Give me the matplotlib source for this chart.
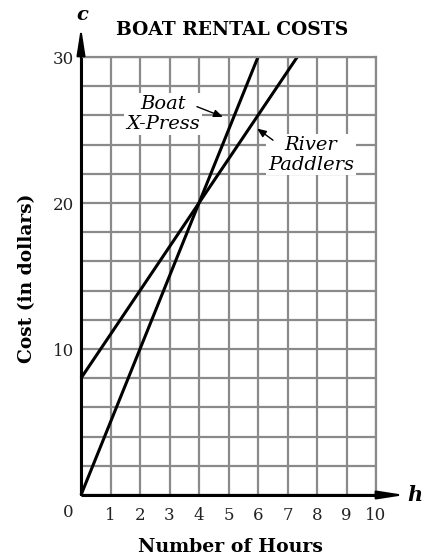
import matplotlib
matplotlib.use("Agg")
import matplotlib.pyplot as plt

boat_hours = [0, 6]
boat_cost = [0, 30]
river_hours = [0, 7.33]
river_cost = [8, 30]

x_ticks = [1, 2, 3, 4, 5, 6, 7, 8, 9, 10]
y_ticks = [10, 20, 30]
y_grid = list(range(0, 31, 2))

plt.rcParams['font.family'] = ['DejaVu Serif']

fig = plt.figure(figsize=(4.32, 5.58), dpi=100)
ax = fig.add_axes([81 / 432, 1 - 495 / 558, 295 / 432, 438 / 558])
ax.set_xlim(0, 10)
ax.set_ylim(0, 30)

ax.set_xticks(x_ticks)
ax.set_yticks(y_ticks)
ax.set_yticks(y_grid, minor=True)
ax.tick_params(axis='both', which='both', length=0, labelsize=12, colors='#222222')
ax.tick_params(axis='x', pad=9)
ax.tick_params(axis='y', pad=5)
ax.grid(True, which='both', color='#8a8a8a', linewidth=1.6)
ax.set_axisbelow(True)
for side in ['top', 'right']:
    ax.spines[side].set_color('#8a8a8a')
    ax.spines[side].set_linewidth(1.6)
for side in ['left', 'bottom']:
    ax.spines[side].set_visible(False)

# axes with arrows
axis_arrow = dict(arrowstyle='-|>,head_length=0.9,head_width=0.14', color='black', lw=1.5,
                  mutation_scale=18, shrinkA=0, shrinkB=0)
ax.plot([0, 10.5], [0, 0], color='black', lw=2.2, clip_on=False, solid_capstyle='butt')
ax.plot([0, 0], [0, 31.2], color='black', lw=2.2, clip_on=False, solid_capstyle='butt')
ax.annotate('', xy=(10.98, 0), xytext=(0, 0), annotation_clip=False, arrowprops=axis_arrow)
ax.annotate('', xy=(0, 32.05), xytext=(0, 0), annotation_clip=False, arrowprops=axis_arrow)
ax.text(11.05, 0, 'h', fontsize=15, fontweight='bold', style='italic', va='center', ha='left', clip_on=False)
ax.text(0.05, 32.9, 'c', fontsize=14, fontweight='bold', style='italic', va='center', ha='center', clip_on=False)
ax.text(-0.45, -1.2, '0', fontsize=12, color='#222222', ha='center', va='center')

ax.plot(boat_hours, boat_cost, color='black', lw=2.2, solid_capstyle='butt', clip_on=False)
ax.plot(river_hours, river_cost, color='black', lw=2.2, solid_capstyle='butt', clip_on=False)

label_box = dict(boxstyle='square,pad=0.1', fc='white', ec='none')
pointer = dict(arrowstyle='-|>,head_length=0.6,head_width=0.25', color='black', lw=1,
               mutation_scale=9, shrinkA=0, shrinkB=0)

ax.text(2.78, 26.1, 'Boat\nX-Press', fontsize=14, style='italic', ha='center', va='center',
        linespacing=1.1, bbox=label_box)
ax.annotate('', xy=(4.81, 25.9), xytext=(3.93, 26.6), arrowprops=pointer)

ax.text(7.8, 23.3, 'River\nPaddlers', fontsize=14, style='italic', ha='center', va='center',
        linespacing=1.1, bbox=label_box)
ax.annotate('', xy=(5.97, 25.1), xytext=(6.51, 24.3), arrowprops=pointer)

fig.text(232 / 432, 1 - 30 / 558, 'BOAT RENTAL COSTS', fontsize=13.4, fontweight='bold', ha='center', va='center')
fig.text(230 / 432, 1 - 547 / 558, 'Number of Hours', fontsize=13.6, fontweight='bold', ha='center', va='center')
fig.text(27 / 432, 1 - 278 / 558, 'Cost (in dollars)', fontsize=13.4, fontweight='bold', ha='center', va='center',
         rotation=90)

fig.savefig('out.png', dpi=100)
